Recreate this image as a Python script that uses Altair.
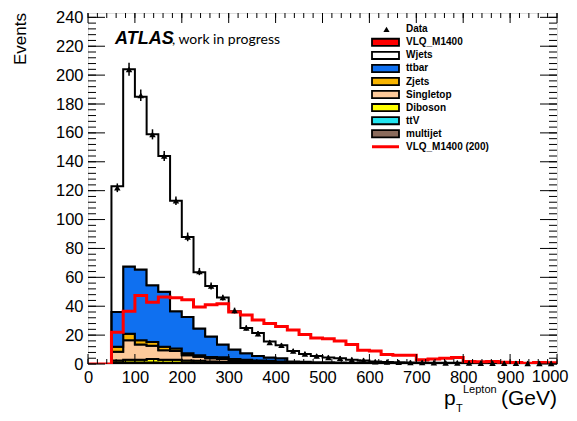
import altair as alt
import pandas as pd

# ---------------- data (25 GeV bins, 0..1000 GeV) ----------------
EDGES = list(range(0, 1001, 25))
DATA = [0, 0, 122, 204, 186, 159, 144, 113, 88, 64, 54, 46, 37, 25, 21, 15, 13, 9, 7, 5.5,
        4.5, 4, 3, 2.5, 1.6, 1.4, 1.2, 1.0, 1.0, 0.9, 0.8, 0.8, 0.7, 0.6, 0.6, 0.5, 0.5, 0.4, 0.4, 0.4]
DATA_ERR = [0, 0, 3, 4.5, 4, 3.5, 3.5, 3, 3, 2.5, 2.5, 2, 2, 1.8, 1.8, 1.5, 1.5, 1.5, 1.5, 1.5,
            1.5, 1.5, 1.5, 1.5, 1.5, 1.5, 1.5, 1.5, 1.5, 1.5, 1.5, 1.5, 1.5, 1.5, 1.5, 1.5, 1.5, 1.5, 1.5, 1.5]
MULTIJET = [0, 0, .6, .7, .7, .7, .6, .6, .6, .5, .5, .4, .4, .4, .3, .3, .3, .2, .2, .2,
            .15, .15, .15, .15, .1, .1, .1, .1, .1, .1, .1, .1, .1, .1, .1, .1, .1, .1, .1, .1]
TTV = [0, 0, .3, .3, .3, .3, .3, .3, .3, .2, .2, .2, .2, .1, .1, .1, .1, .1, .05, .05,
       .05, .05, .05, .05, .05, .05, .05, .05, .05, .05, .05, .05, .05, .05, .05, .05, .05, .05, .05, .05]
DIBOSON = [0, 0, 1.6, 2, 2, 2.5, 2, 2, 1.6, 1.5, 1, 1, .7, .6, .5, .4, .3, .3, .25, .2,
           .2, .2, .15, .15, .15, .1, .1, .1, .1, .1, .1, .1, .1, .1, .1, .1, .1, .1, .1, .1]
SINGLETOP = [0, 0, 6, 13.5, 10.5, 9.1, 6.7, 6.1, 3.5, 2.8, 2.3, 1.9, 1.5, 1.4, 1.1, 1, .8, .5, .4, .3,
             .3, .25, .2, .2, .15, .15, .1, .1, .1, .1, .1, .1, .1, .05, .05, .05, .05, .05, .05, .05]
ZJETS = [0, 0, 3.5, 4.5, 3, 2.7, 2.4, 1.8, 1.5, 1, .8, 1.1, .7, .5, .5, .4, .3, .2, .2, .2,
         .2, .15, .15, .1, .1, .1, .1, .1, .1, .05, .05, .05, .05, .05, .05, .05, .05, .05, .05, .05]
TTBAR = [0, 0, 24, 46.5, 49, 39.2, 38, 25.7, 25, 18.5, 14.2, 8.9, 6.5, 4.5, 3, 2.3, 2.2, .5, .4, .3,
         .3, .25, .2, .2, .15, .15, .1, .1, .1, .1, .1, .1, .05, .05, .05, .05, .05, .05, .05, .05]
WJETS = [0, 0, 87, 136.5, 119.5, 104.5, 94, 76.5, 55.5, 39, 35, 32.5, 26.5, 17.5, 16, 11, 9, 7.2, 5.5, 4.25,
         3.3, 2.95, 2.1, 1.65, 1.0, .75, .65, .45, .45, .4, .3, .3, .25, .2, .15, .1, .1, .05, .05, .05]
VLQ200 = [0, 0, 22, 36.6, 47.4, 42.8, 46.3, 45.8, 44.4, 39.4, 41, 41.7, 36, 34, 30.5, 28, 26, 23.5, 20.5, 18,
          17.5, 16, 13.5, 9.5, 9, 6.5, 6, 6, 3, 3.5, 4, 4.5, 1.8, 1.6, 1.8, 1.2, 1, 0.5, 1, 0.8]

STACK_NAMES = ["multijet", "ttV", "Diboson", "Singletop", "Zjets", "ttbar", "Wjets"]
STACK_VALUES = [MULTIJET, TTV, DIBOSON, SINGLETOP, ZJETS, TTBAR, WJETS]
STACK_COLORS = ["#8a6b5c", "#22e5f0", "#ffff00", "#fdc99a", "#f8b400", "#0f70f0", "#ffffff"]

LEGEND_NAMES = ["Data", "VLQ_M1400", "Wjets", "ttbar", "Zjets", "Singletop", "Diboson", "ttV",
                "multijet", "VLQ_M1400 (200)"]
LEGEND_COLORS = ["#000000", "#ff0000", "#ffffff", "#0f70f0", "#f8b400", "#fdc99a", "#ffff00",
                 "#22e5f0", "#8a6b5c", "#ff0000"]

X_TICKS = list(range(0, 1001, 100))
Y_TICKS = list(range(0, 241, 20))
X_MINOR = list(range(0, 1001, 20))
Y_MINOR = list(range(0, 241, 4))

W, H = 469, 351
TOP = 5
FONT = "Liberation Sans"
LBL = 16.5

# ---------------- tables ----------------
rows = []
for k, (name, vals) in enumerate(zip(STACK_NAMES, STACK_VALUES)):
    for i, e in enumerate(EDGES):
        rows.append({"comp": name, "ord": k, "x": e, "v": vals[min(i, len(vals) - 1)]})
stack_df = pd.DataFrame(rows)

sig_df = pd.DataFrame({"x": EDGES, "v": VLQ200 + [VLQ200[-1]]})
data_df = pd.DataFrame({"lo": EDGES[:-1], "n": DATA, "err": DATA_ERR})
data_df = data_df[data_df["n"] > 0]

xs = alt.Scale(domain=[0, 1000], nice=False, zero=False)
ys = alt.Scale(domain=[0, 243], nice=False, zero=False)
# the last x label (1000) is drawn separately so it stays inside the page
X_AX = alt.Axis(values=X_TICKS[:-1], ticks=False, tickSize=0, domain=False, grid=False, title=None,
                labelFontSize=LBL, labelPadding=5, labelFlush=False, labelOverlap=False,
                labelFont=FONT, labelColor="black", format="d")
Y_AX = alt.Axis(values=Y_TICKS, ticks=False, tickSize=0, domain=False, grid=False, title=None,
                labelFontSize=LBL, labelPadding=5, labelFlush=False, labelOverlap=False,
                labelFont=FONT, labelColor="black", format="d")

stack = alt.Chart(stack_df).mark_area(
    interpolate="step-after", stroke="black", strokeWidth=2, clip=True
).encode(
    x=alt.X("x:Q", scale=xs, axis=X_AX),
    y=alt.Y("v:Q", stack="zero", scale=ys, axis=Y_AX),
    color=alt.Color("comp:N", scale=alt.Scale(domain=STACK_NAMES, range=STACK_COLORS), legend=None),
    order=alt.Order("ord:Q"),
)

sig = alt.Chart(sig_df).mark_line(
    interpolate="step-after", color="#ff0000", strokeWidth=3, clip=True
).encode(
    x=alt.X("x:Q", scale=xs, axis=X_AX),
    y=alt.Y("v:Q", scale=ys, axis=Y_AX),
)

errs = alt.Chart(data_df).transform_calculate(
    c="datum.lo + 12.5", y1="datum.n - datum.err", y2="datum.n + datum.err"
).mark_rule(color="black", strokeWidth=1.5).encode(
    x=alt.X("c:Q", scale=xs, axis=X_AX),
    y=alt.Y("y1:Q", scale=ys, axis=Y_AX),
    y2="y2:Q",
)

pts = alt.Chart(data_df).transform_calculate(c="datum.lo + 12.5").mark_point(
    shape="triangle-up", filled=True, color="black", size=42, opacity=1
).encode(
    x=alt.X("c:Q", scale=xs, axis=X_AX),
    y=alt.Y("n:Q", scale=ys, axis=Y_AX),
)

# ---------------- ROOT style inward ticks ----------------
def yticks(vals, length):
    d = pd.DataFrame({"t": vals})
    left = alt.Chart(d).mark_rule(color="black", strokeWidth=1).encode(
        y=alt.Y("t:Q", scale=ys, axis=Y_AX), x=alt.value(0), x2=alt.value(length))
    right = alt.Chart(d).mark_rule(color="black", strokeWidth=1).encode(
        y=alt.Y("t:Q", scale=ys, axis=Y_AX), x=alt.value(W), x2=alt.value(W - length))
    return [left, right]


def xticks(vals, length):
    d = pd.DataFrame({"t": vals})
    bot = alt.Chart(d).mark_rule(color="black", strokeWidth=1).encode(
        x=alt.X("t:Q", scale=xs, axis=X_AX), y=alt.value(H), y2=alt.value(H - length))
    top = alt.Chart(d).mark_rule(color="black", strokeWidth=1).encode(
        x=alt.X("t:Q", scale=xs, axis=X_AX), y=alt.value(0), y2=alt.value(length))
    return [bot, top]


tick_layers = yticks(Y_TICKS, 17) + yticks(Y_MINOR, 8) + xticks(X_TICKS, 10) + xticks(X_MINOR, 5)

# ---------------- texts ----------------
one = pd.DataFrame({"a": [0]})


def txt(s, x, y, size, **kw):
    return alt.Chart(one).mark_text(text=s, fontSize=size, color="black", **kw).encode(
        x=alt.value(x), y=alt.value(y))


texts = [
    txt(str(X_TICKS[-1]), W + 11.5, H + 5, LBL, font=FONT, align="right", baseline="top"),
    txt("ATLAS", 27, 30.5, 18, font=FONT, fontWeight="bold", fontStyle="italic",
        align="left", baseline="alphabetic"),
    txt(", work in progress", 84, 30.5, 14, font="Lato", align="left", baseline="alphabetic"),
    txt("Events", -67, 0, 17, font=FONT, angle=270, align="right", baseline="middle"),
    txt("p", 356, 392, 21, font=FONT, align="left", baseline="alphabetic"),
    txt("T", 368, 399, 11, font=FONT, align="left", baseline="alphabetic"),
    txt("Lepton", 375, 380, 11, font=FONT, align="left", baseline="alphabetic"),
    txt("(GeV)", 469, 392, 21, font=FONT, align="right", baseline="alphabetic"),
]

# ---------------- legend ----------------
leg_df = pd.DataFrame({"name": LEGEND_NAMES, "col": LEGEND_COLORS, "row": list(range(len(LEGEND_NAMES)))})
leg_base = alt.Chart(leg_df).transform_calculate(
    ly="datum.row * 13.05 + 16.3", ly1="datum.row * 13.05 + 16.3 - 3.6",
    ly2="datum.row * 13.05 + 16.3 + 3.6")
leg_boxes = leg_base.transform_filter("datum.row >= 1 && datum.row <= 8").mark_rect(
    stroke="black", strokeWidth=1.8).encode(
    x=alt.value(284), x2=alt.value(311),
    y=alt.Y("ly1:Q", scale=None, axis=None), y2="ly2:Q",
    fill=alt.Color("col:N", scale=None, legend=None))
leg_tri = leg_base.transform_filter("datum.row == 0").mark_point(
    shape="triangle-up", filled=True, color="black", size=38, opacity=1).encode(
    x=alt.value(298.5), y=alt.Y("ly:Q", scale=None, axis=None))
leg_line = leg_base.transform_filter("datum.row == 9").mark_rule(
    color="#ff0000", strokeWidth=3).encode(
    x=alt.value(284), x2=alt.value(311), y=alt.Y("ly:Q", scale=None, axis=None))
leg_text = leg_base.mark_text(align="left", baseline="middle", fontSize=10, fontWeight="bold",
                              font=FONT, color="black").encode(
    x=alt.value(318), y=alt.Y("ly:Q", scale=None, axis=None), text="name:N")

chart = alt.layer(
    stack, sig, errs, pts, *tick_layers, leg_boxes, leg_tri, leg_line, leg_text, *texts
).properties(
    width=W, height=H,
    autosize=alt.AutoSizeParams(type="none"),
    padding={"left": 80, "top": TOP, "right": 12, "bottom": 405 - TOP - H},
).configure_view(
    stroke="black", strokeWidth=1.5
).configure(background="white")

chart.save("out.html", embed_options={"renderer": "svg", "actions": False})
